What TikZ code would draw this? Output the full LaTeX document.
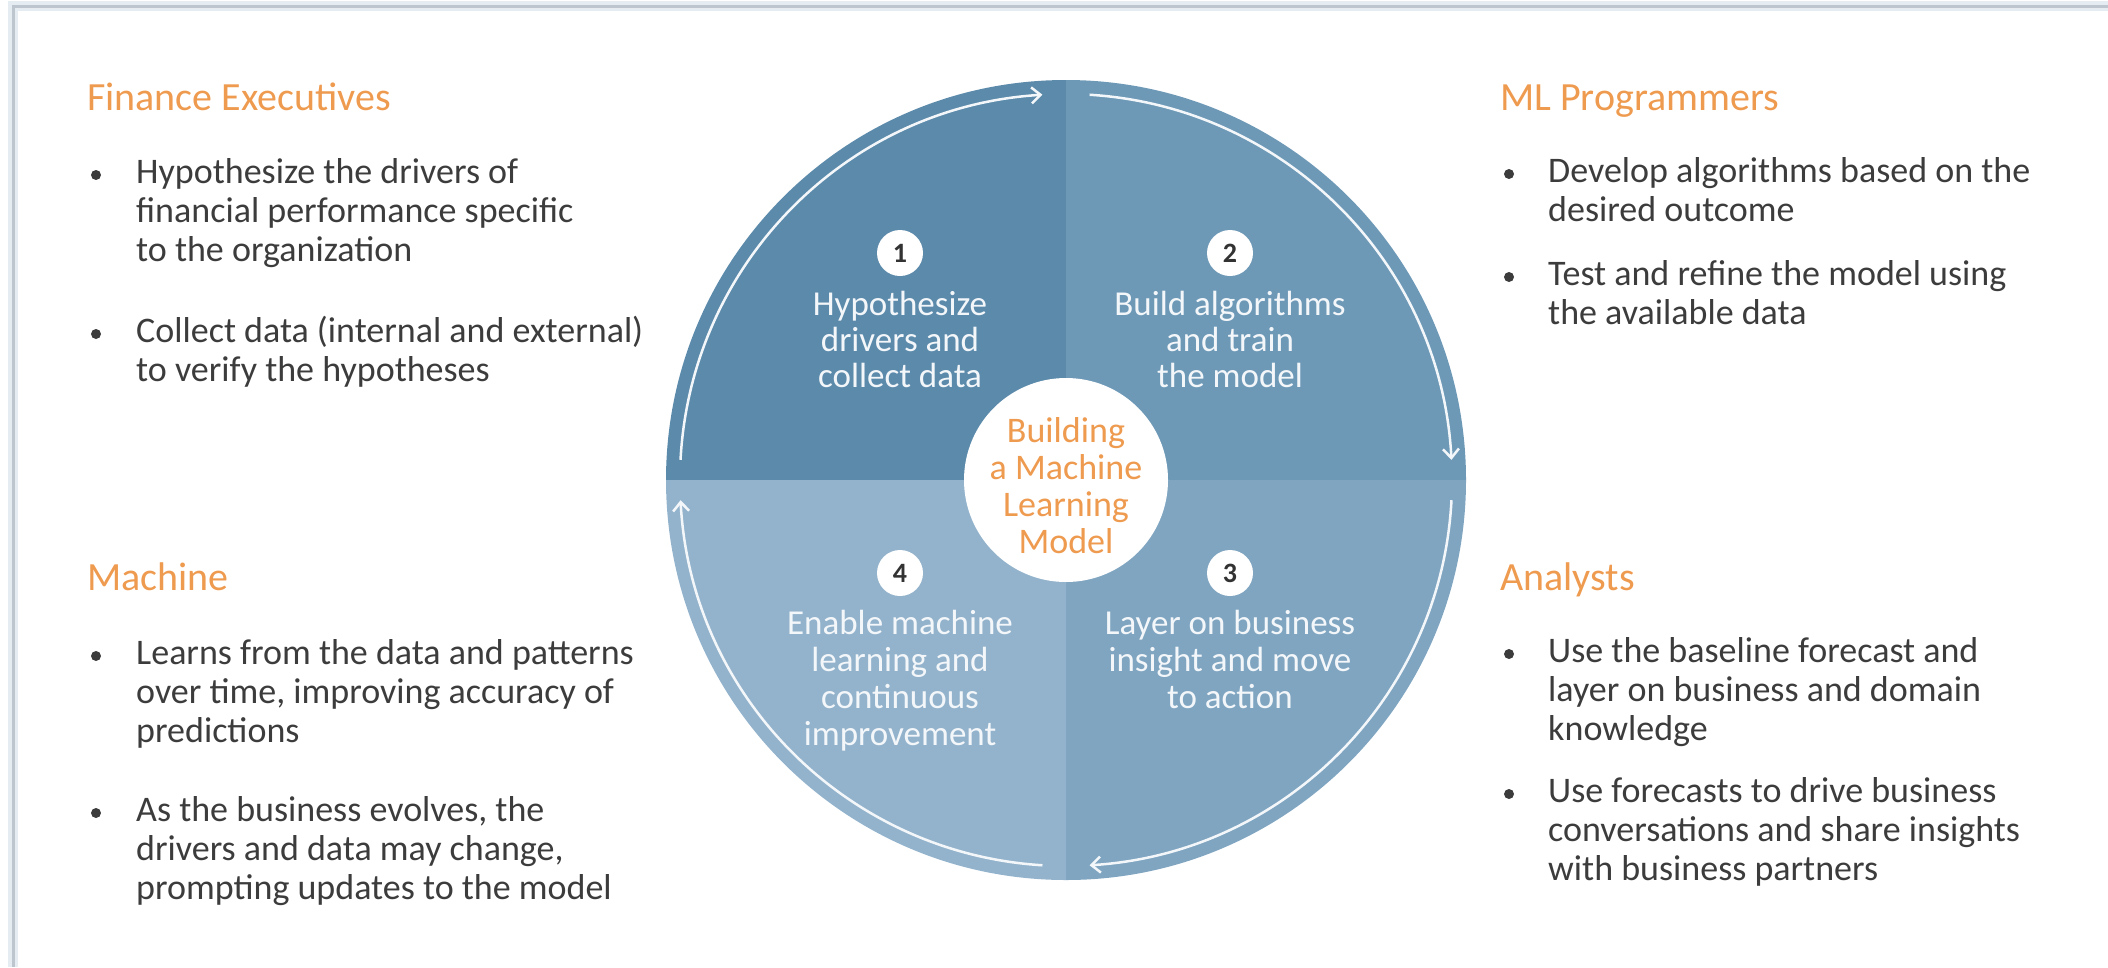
\documentclass[tikz,border=0pt]{standalone}
\usepackage{fontspec}
\setmainfont{Carlito}
\usetikzlibrary{arrows.meta}
\definecolor{qtl}{HTML}{5B8AAB}
\definecolor{qtr}{HTML}{6D99B7}
\definecolor{qbr}{HTML}{7FA5C1}
\definecolor{qbl}{HTML}{93B3CC}
\definecolor{orng}{HTML}{EE9A4F}
\definecolor{bodyc}{HTML}{3C3C3C}
\definecolor{framec}{HTML}{BDC6CF}
\definecolor{haloc}{HTML}{E5ECF2}
\definecolor{qtxt}{HTML}{F4F7FA}
\begin{document}
\begin{tikzpicture}[x=1pt,y=1pt,
  hdr/.style={anchor=base west, inner sep=0, text=orng, font=\fontsize{40}{44}\selectfont},
  body/.style={anchor=base west, inner sep=0, text=bodyc, font=\fontsize{36}{38}\selectfont},
  dot/.style={circle, fill=bodyc, inner sep=0, minimum size=10},
  qtext/.style={anchor=base, inner sep=0, text=qtxt, font=\fontsize{35}{36}\selectfont},
  hubtext/.style={anchor=base, inner sep=0, text=orng, font=\fontsize{36}{37}\selectfont},
  numc/.style={circle, fill=white, inner sep=0, minimum size=46, text=black!80, font=\fontsize{28}{30}\selectfont\bfseries},
  cyc/.style={draw=qtxt, line width=2.5, -{Straight Barb[length=9,width=16]}},
]
\useasboundingbox (0,0) rectangle (2108,-967);
% frame
\draw[haloc, line width=10] (13,-967) -- (13,-6) -- (2108,-6);
\draw[framec, line width=3] (13,-967) -- (13,-6) -- (2108,-6);
% wheel
\coordinate (C) at (1066,-480);
\fill[qtl] (C) -- ++(-400,0) arc[start angle=180, end angle=90, radius=400] -- cycle;
\fill[qtr] (C) -- ++(0,400) arc[start angle=90, end angle=0, radius=400] -- cycle;
\fill[qbr] (C) -- ++(400,0) arc[start angle=0, end angle=-90, radius=400] -- cycle;
\fill[qbl] (C) -- ++(0,-400) arc[start angle=-90, end angle=-180, radius=400] -- cycle;
% cycle arrows
\draw[cyc] ([shift={(177:386)}]C) arc[start angle=177, end angle=93.5, radius=386];
\draw[cyc] ([shift={(86.5:386)}]C) arc[start angle=86.5, end angle=3, radius=386];
\draw[cyc] ([shift={(-3:386)}]C) arc[start angle=-3, end angle=-86.5, radius=386];
\draw[cyc] ([shift={(-93.5:386)}]C) arc[start angle=-93.5, end angle=-177, radius=386];
% hub
\node[circle, fill=white, minimum size=204, inner sep=0] (hub) at (C) {};
\foreach \t [count=\i] in {Building, a Machine, Learning, Model}
  \node[hubtext] (hub\i) at (1066,{-405-37*\i}) {\t};
% numbers
\node[numc] (n1) at (900,-253) {1};
\node[numc] (n2) at (1230,-253) {2};
\node[numc] (n3) at (1230,-573) {3};
\node[numc] (n4) at (900,-573) {4};
% quadrant texts
\foreach \t [count=\i] in {Hypothesize, drivers and, collect data}
  \node[qtext] (q1l\i) at (900,{-279-36*\i}) {\t};
\foreach \t [count=\i] in {Build algorithms, and train, the model}
  \node[qtext] (q2l\i) at (1230,{-279-36*\i}) {\t};
\foreach \t [count=\i] in {Layer on business, insight and move, to action}
  \node[qtext] (q3l\i) at (1230,{-597-37*\i}) {\t};
\foreach \t [count=\i] in {Enable machine, learning and, continuous, improvement}
  \node[qtext] (q4l\i) at (900,{-597-37*\i}) {\t};
% Finance Executives
\node[hdr] (feh) at (87,-110) {Finance Executives};
\node[dot] (fed1) at (96,-175) {};
\foreach \t [count=\i] in {Hypothesize the drivers of, financial performance specific, to the organization}
  \node[body] (fea\i) at (136,{-144-39*\i}) {\t};
\node[dot] (fed2) at (96,-334) {};
\foreach \t [count=\i] in {Collect data (internal and external), to verify the hypotheses}
  \node[body] (feb\i) at (136,{-303-39*\i}) {\t};
% ML Programmers
\node[hdr] (mlh) at (1500,-110) {ML Programmers};
\node[dot] (mld1) at (1509,-174) {};
\foreach \t [count=\i] in {Develop algorithms based on the, desired outcome}
  \node[body] (mla\i) at (1548,{-143-39*\i}) {\t};
\node[dot] (mld2) at (1509,-277) {};
\foreach \t [count=\i] in {Test and refine the model using, the available data}
  \node[body] (mlb\i) at (1548,{-246-39*\i}) {\t};
% Machine
\node[hdr] (mah) at (87,-590) {Machine};
\node[dot] (mad1) at (96,-656) {};
\foreach \t [count=\i] in {Learns from the data and patterns, {over time, improving accuracy of}, predictions}
  \node[body] (maa\i) at (136,{-625-39*\i}) {\t};
\node[dot] (mad2) at (96,-813) {};
\foreach \t [count=\i] in {{As the business evolves, the}, {drivers and data may change,}, prompting updates to the model}
  \node[body] (mab\i) at (136,{-782-39*\i}) {\t};
% Analysts
\node[hdr] (anh) at (1500,-590) {Analysts};
\node[dot] (and1) at (1509,-654) {};
\foreach \t [count=\i] in {Use the baseline forecast and, layer on business and domain, knowledge}
  \node[body] (ana\i) at (1548,{-623-39*\i}) {\t};
\node[dot] (and2) at (1509,-794) {};
\foreach \t [count=\i] in {Use forecasts to drive business, conversations and share insights, with business partners}
  \node[body] (anb\i) at (1548,{-763-39*\i}) {\t};
\end{tikzpicture}
\end{document}
